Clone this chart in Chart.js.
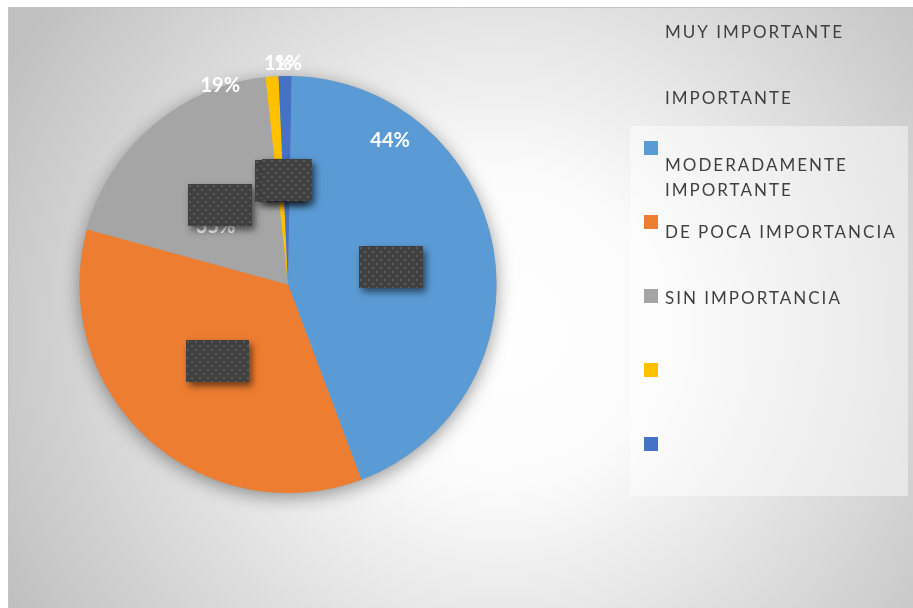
<!DOCTYPE html>
<html>
<head>
<meta charset="utf-8">
<script src="https://cdn.jsdelivr.net/npm/chart.js@4"></script>
<style>
  html, body { margin: 0; padding: 0; background: #ffffff; }
  #wrap { position: relative; width: 913px; height: 608px; }
</style>
</head>
<body>
<div id="wrap"><canvas id="c" width="913" height="608"></canvas></div>
<script>
// Survey answers and their share of responses (%)
const categories = ['MUY IMPORTANTE', 'IMPORTANTE', 'MODERADAMENTE IMPORTANTE', 'DE POCA IMPORTANCIA', 'SIN IMPORTANCIA'];
const percentages = [44, 35, 19, 1, 1];
const percentLabels = percentages.map(v => v + '%');
const sliceColors = ['#5B9BD5', '#ED7D31', '#A5A5A5', '#FFC000', '#4472C4'];

// Where each percentage label sits, relative to the pie centre (in radii)
const labelOffsets = [[0.49, -0.69], [-0.347, -0.278], [-0.325, -0.955], [-0.048, -1.06], [0.0, -1.06]];
// Width of the dark callout box placed on each slice
const calloutWidths = [64, 63, 64, 50, 50];

const FONT = 'Lato, "Open Sans", sans-serif';

// Patterned fill for the callout boxes
function makeDotPattern(ctx) {
  const tile = document.createElement('canvas');
  tile.width = 8; tile.height = 8;
  const t = tile.getContext('2d');
  t.fillStyle = '#404040';
  t.fillRect(0, 0, 8, 8);
  t.fillStyle = '#5a5a5a';
  t.fillRect(1, 1, 2, 2);
  t.fillRect(5, 5, 2, 2);
  return ctx.createPattern(tile, 'repeat');
}

const backgroundPlugin = {
  id: 'panelBackground',
  beforeDraw(chart) {
    const ctx = chart.ctx;
    ctx.save();
    ctx.fillStyle = '#ffffff';
    ctx.fillRect(0, 0, chart.width, chart.height);
    const g = ctx.createRadialGradient(500, 330, 0, 500, 330, 560);
    g.addColorStop(0, '#ffffff');
    g.addColorStop(0.28, '#fbfbfb');
    g.addColorStop(1, '#c0c0c0');
    ctx.fillStyle = g;
    ctx.fillRect(8, 7, chart.width - 8, chart.height - 7);
    ctx.strokeStyle = '#c4c4c4';
    ctx.lineWidth = 1;
    ctx.beginPath();
    ctx.moveTo(8.5, chart.height);
    ctx.lineTo(8.5, 7.5);
    ctx.lineTo(chart.width, 7.5);
    ctx.stroke();

    // legend panel
    ctx.fillStyle = 'rgba(255,255,255,0.45)';
    ctx.fillRect(630, 126, 278, 370);
    ctx.restore();
  },
  beforeDatasetsDraw(chart) {
    const arc = chart.getDatasetMeta(0).data[0];
    if (!arc) return;
    const ctx = chart.ctx;
    ctx.save();
    ctx.shadowColor = 'rgba(0,0,0,0.4)';
    ctx.shadowBlur = 18;
    ctx.shadowOffsetY = 4;
    ctx.fillStyle = '#a0a0a0';
    ctx.beginPath();
    ctx.arc(arc.x, arc.y, arc.outerRadius, 0, Math.PI * 2);
    ctx.fill();
    ctx.restore();
  }
};

const labelPlugin = {
  id: 'sliceLabels',
  afterDatasetsDraw(chart) {
    const ctx = chart.ctx;
    const arcs = chart.getDatasetMeta(0).data;
    ctx.save();
    ctx.fillStyle = '#ffffff';
    ctx.font = 'bold 20px ' + FONT;
    ctx.textAlign = 'center';
    ctx.textBaseline = 'middle';
    arcs.forEach((a, i) => {
      const r = a.outerRadius;
      ctx.fillText(percentLabels[i], a.x + labelOffsets[i][0] * r, a.y + labelOffsets[i][1] * r);
    });
    ctx.restore();

    // dark callout boxes on each slice
    const pattern = makeDotPattern(ctx);
    arcs.forEach((a, i) => {
      const c = a.getCenterPoint();
      const w = calloutWidths[i], h = 42;
      ctx.save();
      ctx.shadowColor = 'rgba(0,0,0,0.55)';
      ctx.shadowBlur = 7;
      ctx.shadowOffsetX = 3;
      ctx.shadowOffsetY = 4;
      ctx.fillStyle = '#404040';
      ctx.fillRect(Math.round(c.x - w / 2), Math.round(c.y - h / 2), w, h);
      ctx.restore();
      ctx.save();
      ctx.translate(Math.round(c.x - w / 2), Math.round(c.y - h / 2));
      ctx.fillStyle = pattern;
      ctx.fillRect(0, 0, w, h);
      ctx.restore();
    });
  }
};

const legendPlugin = {
  id: 'sideLegend',
  afterDraw(chart) {
    const ctx = chart.ctx;
    ctx.save();
    // swatches
    sliceColors.forEach((col, i) => {
      ctx.fillStyle = col;
      ctx.fillRect(644, 141 + 74 * i, 14, 14);
    });
    // names
    ctx.fillStyle = '#3f3f3f';
    ctx.font = '17px ' + FONT;
    ctx.letterSpacing = '2px';
    ctx.textAlign = 'left';
    ctx.textBaseline = 'alphabetic';
    const baselines = [38, 104, 171, 238, 304];
    categories.forEach((name, i) => {
      const words = name.split(' ');
      const lines = [];
      let cur = '';
      words.forEach(w => {
        const test = cur ? cur + ' ' + w : w;
        if (cur && ctx.measureText(test).width > 245) { lines.push(cur); cur = w; }
        else cur = test;
      });
      lines.push(cur);
      lines.forEach((ln, k) => ctx.fillText(ln, 665, baselines[i] + 25 * k));
    });
    ctx.restore();
  }
};

new Chart(document.getElementById('c'), {
  type: 'pie',
  data: {
    labels: categories,
    datasets: [{
      data: percentages,
      backgroundColor: sliceColors,
      borderWidth: 0
    }]
  },
  options: {
    responsive: false,
    animation: false,
    devicePixelRatio: 1,
    rotation: 1,
    layout: { padding: { left: 79, top: 76, right: 416, bottom: 115 } },
    plugins: {
      legend: { display: false },
      tooltip: { enabled: false }
    }
  },
  plugins: [backgroundPlugin, labelPlugin, legendPlugin]
});
</script>
</body>
</html>
